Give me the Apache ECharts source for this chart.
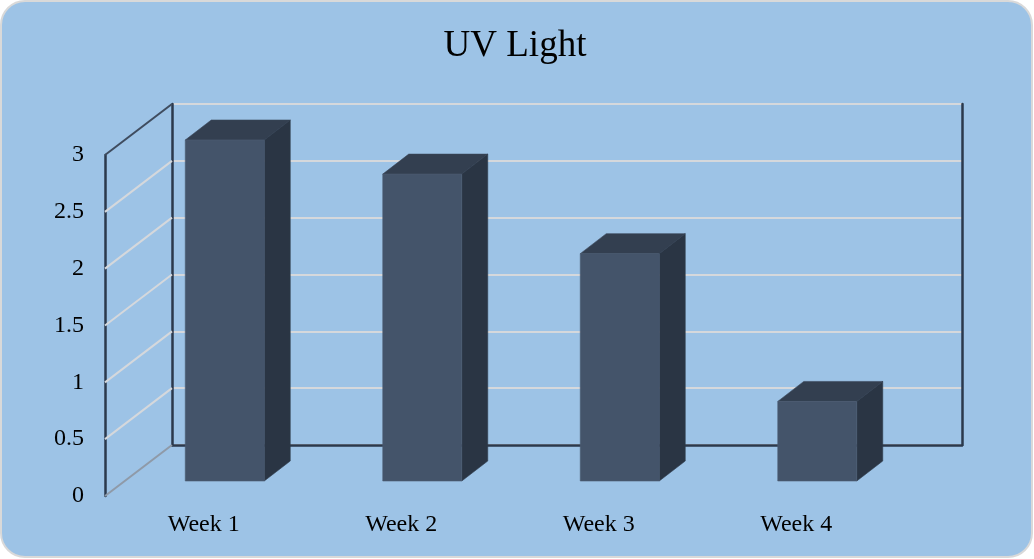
<!DOCTYPE html>
<html>
<head>
<meta charset="utf-8">
<title>UV Light</title>
<style>
  html, body { margin: 0; padding: 0; background: #fff; }
  #chart { width: 1034px; height: 559px; }
</style>
<script src="https://cdn.jsdelivr.net/npm/echarts@6/dist/echarts.min.js"></script>
</head>
<body>
<div id="chart"></div>
<script>
const weeks = ['Week 1', 'Week 2', 'Week 3', 'Week 4']
const uvValues = [3, 2.7, 2, 0.7]
const yTicks = [0, 0.5, 1, 1.5, 2, 2.5, 3]

// fake 3d: offsets from the front plane in px
const wallDepth = [67, -51]
const barInset = [21, -15]
const barDepth = [26, -20]
const barWidth = 79
const lineDark = '#2b394c'
const lineLight = '#d5d8dc'
const serif = '"Liberation Serif", serif'

const chart = echarts.init(document.getElementById('chart'))

function renderWall(params, api) {
  const v = api.value(0)
  const x = params.coordSys.x
  const y = api.coord([0, v])[1]
  return {
    type: 'line',
    shape: { x1: x, y1: y, x2: x + wallDepth[0], y2: y + wallDepth[1] },
    style: { stroke: v === 3 ? '#3f4c5f' : v === 0 ? '#8f9aa8' : lineLight, lineWidth: 2 }
  }
}

function renderBar(params, api) {
  const top = api.coord([api.value(0), api.value(1)])
  const base = api.coord([api.value(0), 0])
  const l = top[0] + barInset[0] - barWidth / 2
  const r = l + barWidth
  const t = top[1] + barInset[1]
  const b = base[1] + barInset[1]
  const [dx, dy] = barDepth
  return {
    type: 'group',
    children: [
      {
        type: 'polygon',
        shape: { points: [[l, t], [l + dx, t + dy], [r + dx, t + dy], [r, t]] },
        style: { fill: '#333f50', stroke: '#3a4759', lineWidth: 0.6 }
      },
      {
        type: 'polygon',
        shape: { points: [[r, t], [r + dx, t + dy], [r + dx, b + dy], [r, b]] },
        style: { fill: '#2a3544', stroke: '#303c4d', lineWidth: 0.6 }
      },
      {
        type: 'rect',
        shape: { x: l, y: t, width: barWidth, height: b - t },
        style: { fill: '#44546a', stroke: '#4d5c72', lineWidth: 0.6 }
      }
    ]
  }
}

chart.setOption({
  animation: false,
  backgroundColor: '#fff',
  title: {
    text: 'UV Light',
    left: 510,
    top: 23,
    textAlign: 'center',
    textStyle: { fontFamily: serif, fontSize: 37, fontWeight: 'normal', color: '#000' }
  },
  graphic: [
    {
      type: 'rect',
      z: -10,
      shape: { x: 1, y: 1, width: 1031, height: 556, r: 24 },
      style: { fill: '#9dc3e6', stroke: '#d9d9d9', lineWidth: 2 }
    }
  ],
  grid: [
    { left: 105, top: 155, width: 790, height: 341 },
    { left: 172, top: 104, width: 790, height: 341 }
  ],
  xAxis: [
    {
      type: 'category',
      data: weeks,
      gridIndex: 0,
      axisLine: { show: false },
      axisTick: { show: false },
      axisLabel: { margin: 17, fontFamily: serif, fontSize: 24, color: '#000' }
    },
    {
      type: 'category',
      data: weeks,
      gridIndex: 1,
      axisLine: { show: true, lineStyle: { color: lineDark, width: 2.5 } },
      axisTick: { show: false },
      axisLabel: { show: false }
    }
  ],
  yAxis: [
    {
      type: 'value',
      min: 0,
      max: 3,
      interval: 0.5,
      gridIndex: 0,
      axisLine: { show: true, lineStyle: { color: lineDark, width: 2.5 } },
      axisTick: { show: false },
      axisLabel: { margin: 21, fontFamily: serif, fontSize: 24, color: '#000' },
      splitLine: { show: false }
    },
    {
      type: 'value',
      min: 0,
      max: 3,
      interval: 0.5,
      gridIndex: 1,
      axisLine: { show: true, lineStyle: { color: lineDark, width: 2.5 } },
      axisTick: { show: false },
      axisLabel: { show: false },
      splitLine: { show: true, lineStyle: { color: lineLight, width: 2 } }
    },
    {
      type: 'value',
      position: 'right',
      min: 0,
      max: 3,
      interval: 0.5,
      gridIndex: 1,
      axisLine: { show: true, lineStyle: { color: lineDark, width: 2.5 } },
      axisTick: { show: false },
      axisLabel: { show: false },
      splitLine: { show: false }
    }
  ],
  series: [
    {
      type: 'custom',
      xAxisIndex: 0,
      yAxisIndex: 0,
      clip: false,
      z: 3,
      silent: true,
      renderItem: renderWall,
      encode: { y: 0 },
      data: yTicks.map((v) => [v])
    },
    {
      type: 'custom',
      xAxisIndex: 0,
      yAxisIndex: 0,
      clip: false,
      z: 5,
      silent: true,
      renderItem: renderBar,
      encode: { x: 0, y: 1 },
      data: uvValues.map((v, i) => [i, v])
    }
  ]
})
</script>
</body>
</html>
